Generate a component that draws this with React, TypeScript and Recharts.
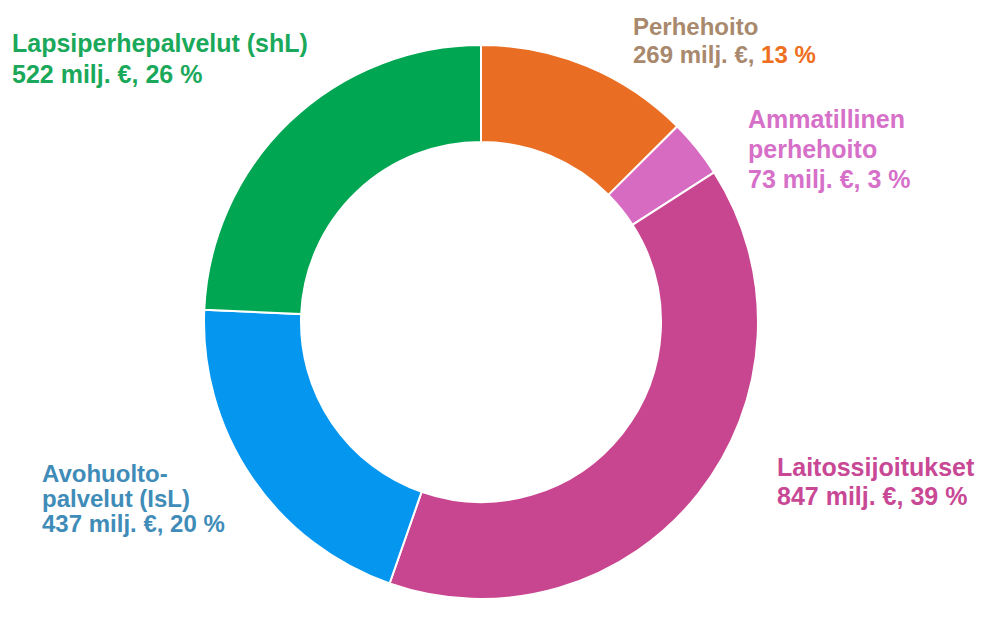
import React from 'react';
import { PieChart, Pie, Cell } from 'recharts';

const categories = ['Perhehoito', 'Ammatillinen perhehoito', 'Laitossijoitukset', 'Avohuoltopalvelut (IsL)', 'Lapsiperhepalvelut (shL)'];
const amounts = [269, 73, 847, 437, 522];
const percents = [13, 3, 39, 20, 26];
const colors = ['#ea6d24', '#d76bc2', '#c8458f', '#0596f0', '#00a651'];

// label lines as they appear in the picture
const labelLines = [
  ['Perhehoito'],
  ['Ammatillinen', 'perhehoito'],
  ['Laitossijoitukset'],
  ['Avohuolto-', 'palvelut (IsL)'],
  ['Lapsiperhepalvelut (shL)'],
];

const labelPos = [
  { x: 633, y: 35, lh: 28, size: 24, color: '#a8896e' },
  { x: 748, y: 128, lh: 30, size: 25, color: '#d670c8' },
  { x: 777, y: 476, lh: 29, size: 25, color: '#c84895' },
  { x: 42, y: 482, lh: 25, size: 24, color: '#3f8cb8' },
  { x: 12, y: 52, lh: 31, size: 25, color: '#1aa85a' },
];

const data = categories.map((name, i) => ({ name, value: amounts[i] }));

const renderLabel = (props: any) => {
  const i = props.index;
  const p = labelPos[i];
  const lines = labelLines[i];
  const last = `${amounts[i]} milj. €, `;
  return (
    <text
      key={`lbl-${i}`}
      x={p.x}
      y={p.y}
      fill={p.color}
      fontSize={p.size}
      fontWeight="bold"
      fontFamily="Liberation Sans, Arial, sans-serif"
      textAnchor="start"
    >
      {lines.map((l, j) => (
        <tspan key={j} x={p.x} y={p.y + j * p.lh}>
          {l}
        </tspan>
      ))}
      <tspan x={p.x} y={p.y + lines.length * p.lh}>
        {last}
      </tspan>
      <tspan fill={i === 0 ? '#ee6f20' : p.color}>{`${percents[i]} %`}</tspan>
    </text>
  );
};

export default function App() {
  return (
    <div style={{ position: 'absolute', left: 0, top: 0, background: '#fff' }}>
      <PieChart width={982} height={639}>
        <Pie
          data={data}
          dataKey="value"
          nameKey="name"
          cx={476}
          cy={317}
          innerRadius={180}
          outerRadius={277}
          startAngle={90}
          endAngle={-270}
          stroke="#ffffff"
          strokeWidth={2}
          label={renderLabel}
          labelLine={false}
          isAnimationActive={false}
        >
          {data.map((entry, index) => (
            <Cell key={`cell-${index}`} fill={colors[index]} />
          ))}
        </Pie>
      </PieChart>
    </div>
  );
}
